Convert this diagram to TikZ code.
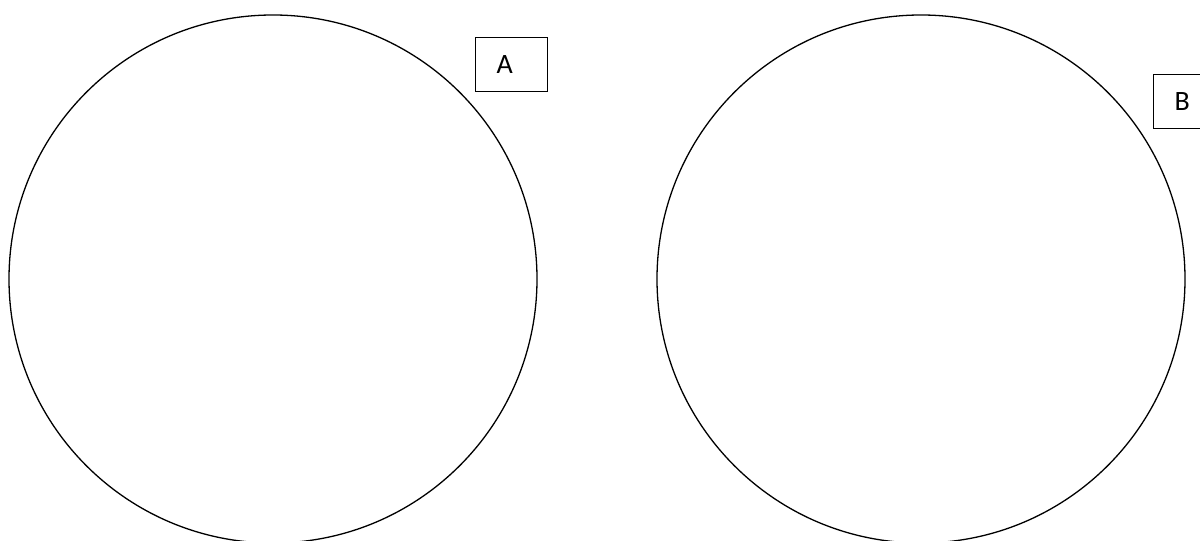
\documentclass[tikz,border=0pt]{standalone}
\usepackage{fontspec}
\setmainfont{Carlito}
\begin{document}
\begin{tikzpicture}[x=1pt,y=1pt,
  ring/.style={draw=black,line width=1.3pt},
  lbl/.style={draw=black,line width=1.1pt,rectangle,minimum height=54pt,
    inner xsep=21pt,inner ysep=0pt,text width=30pt,align=left,
    font=\fontsize{28}{34}\selectfont,anchor=north west}]
\useasboundingbox (0,0) rectangle (1200,541);
\clip (0,0) rectangle (1200,541);
\fill[white] (0,0) rectangle (1200,541);
\node[ring,circle,minimum size=528pt,inner sep=0pt] (cA) at (273,262) {};
\node[ring,circle,minimum size=528pt,inner sep=0pt] (cB) at (921,262) {};
\node[lbl] (bA) at (475,504) {A};
\node[lbl] (bB) at (1153,467) {B};
\end{tikzpicture}
\end{document}
